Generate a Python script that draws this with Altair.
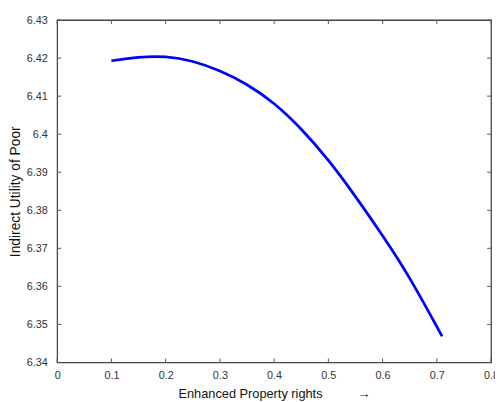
import altair as alt
import pandas as pd

# Data
x_vals = [0.10, 0.15, 0.20, 0.25, 0.30, 0.35, 0.40, 0.45, 0.50, 0.55, 0.60, 0.65, 0.70, 0.708]
y_vals = [6.4193, 6.4202, 6.4203, 6.4191, 6.4166, 6.4130, 6.4080, 6.4013, 6.3931, 6.3836,
          6.3733, 6.3621, 6.3494, 6.3473]
x_ticks = [0, 0.1, 0.2, 0.3, 0.4, 0.5, 0.6, 0.7, 0.8]
y_ticks = [6.34, 6.35, 6.36, 6.37, 6.38, 6.39, 6.40, 6.41, 6.42, 6.43]

W, H = 441, 348
FONT = "Liberation Sans"
NB = "\u00a0"

df = pd.DataFrame({"x": x_vals, "y": y_vals})
dfx = pd.DataFrame({"x": x_ticks})
dfy = pd.DataFrame({"y": y_ticks})

xscale = alt.Scale(domain=[0, 0.8], nice=False, zero=False)
yscale = alt.Scale(domain=[6.34, 6.43], nice=False, zero=False)

xaxis = alt.Axis(values=x_ticks, format="~g", title="Enhanced Property rights" + NB * 10 + "→",
                 ticks=False, domain=False, grid=False, labelFont=FONT, labelFontSize=11,
                 labelColor="#333", labelPadding=7, labelOverlap=False, labelBound=False,
                 labelFlush=False, titleFont=FONT, titleFontSize=13, titleFontWeight="normal",
                 titleColor="#111", titlePadding=8)
yaxis = alt.Axis(values=y_ticks, format="~g", title="Indirect Utility of Poor",
                 ticks=False, domain=False, grid=False, labelFont=FONT, labelFontSize=11,
                 labelColor="#333", labelPadding=10, labelOverlap=False, labelBound=False,
                 labelFlush=False, titleFont=FONT, titleFontSize=14, titleFontWeight="normal",
                 titleColor="#111", titlePadding=4)

line = alt.Chart(df).mark_line(color="#0000ff", strokeWidth=2.8, interpolate="natural").encode(
    x=alt.X("x:Q", scale=xscale, axis=xaxis),
    y=alt.Y("y:Q", scale=yscale, axis=yaxis),
)

tick_color = "#555"
xb = alt.Chart(dfx).mark_rule(color=tick_color, strokeWidth=1).encode(
    x=alt.X("x:Q", scale=xscale, axis=xaxis), y=alt.value(H), y2=alt.value(H - 4))
xt = alt.Chart(dfx).mark_rule(color=tick_color, strokeWidth=1).encode(
    x=alt.X("x:Q", scale=xscale, axis=xaxis), y=alt.value(0), y2=alt.value(4))
yl = alt.Chart(dfy).mark_rule(color=tick_color, strokeWidth=1).encode(
    y=alt.Y("y:Q", scale=yscale, axis=yaxis), x=alt.value(0), x2=alt.value(4))
yr = alt.Chart(dfy).mark_rule(color=tick_color, strokeWidth=1).encode(
    y=alt.Y("y:Q", scale=yscale, axis=yaxis), x=alt.value(W - 4), x2=alt.value(W))

chart = alt.layer(line, xb, xt, yl, yr).properties(
    width=W, height=H,
    autosize=alt.AutoSizeParams(type="none"),
    padding={"left": 50, "top": 9, "right": 4, "bottom": 40},
    background="white",
).configure_view(stroke="#444", strokeWidth=1.3)

chart.save("out.html", embed_options={"renderer": "svg", "actions": False})
